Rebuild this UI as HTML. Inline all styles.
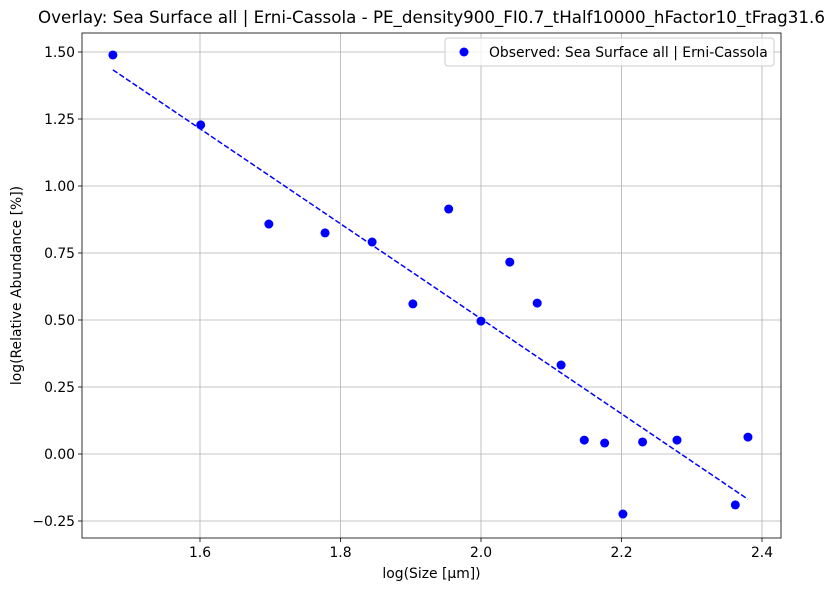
<!DOCTYPE html>
<html><head><meta charset="utf-8"><style>
body{margin:0;background:#fff;font-family:"Liberation Sans","DejaVu Sans",sans-serif}
svg text{font-family:"DejaVu Sans","Liberation Sans",sans-serif}
</style></head><body>
<svg id="chart" width="831" height="590" xmlns="http://www.w3.org/2000/svg"></svg>
<script>
const xs=[1.476,1.601,1.698,1.778,1.845,1.903,1.954,2.0,2.041,2.080,2.114,2.147,2.176,2.202,2.230,2.279,2.362,2.380];
const ys=[1.489,1.228,0.858,0.825,0.791,0.560,0.914,0.496,0.716,0.563,0.332,0.052,0.041,-0.224,0.045,0.052,-0.190,0.063];
const xTicks=[1.6,1.8,2.0,2.2,2.4];
const xTickLabels=["1.6","1.8","2.0","2.2","2.4"];
const yTicks=[-0.25,0,0.25,0.5,0.75,1.0,1.25,1.5];
const yTickLabels=["−0.25","0.00","0.25","0.50","0.75","1.00","1.25","1.50"];
const L=82,R=781,T=33,B=538;
const X=v=>200+(v-1.6)*702.5;
const Y=v=>454-v*268;
const svg=document.getElementById('chart');
const NS='http://www.w3.org/2000/svg';
function mk(tag,attrs,parent){const e=document.createElementNS(NS,tag);for(const k in attrs)e.setAttribute(k,attrs[k]);(parent||svg).appendChild(e);return e;}
xTicks.forEach((t,i)=>{
 const g=mk('line',{x1:X(t),x2:X(t),y1:T,y2:B,stroke:'#b0b0b0','stroke-width':0.8});
 
 
 mk('line',{x1:X(t),x2:X(t),y1:B,y2:B+4,stroke:'#000','stroke-width':0.8});
 const tx=mk('text',{x:X(t),y:B+19,'text-anchor':'middle','font-size':13.9});
 tx.textContent=xTickLabels[i];
 
 
});
yTicks.forEach((t,i)=>{
 const g=mk('line',{x1:L,x2:R,y1:Y(t),y2:Y(t),stroke:'#b0b0b0','stroke-width':0.8});
 
 
 mk('line',{x1:L-4,x2:L,y1:Y(t),y2:Y(t),stroke:'#000','stroke-width':0.8});
 const tx=mk('text',{x:L-7,y:Y(t)+5,'text-anchor':'end','font-size':13.9});
 tx.textContent=yTickLabels[i];
 
 
});
const n=xs.length,mx=xs.reduce((a,b)=>a+b)/n,my=ys.reduce((a,b)=>a+b)/n;
let sxy=0,sxx=0;for(let i=0;i<n;i++){sxy+=(xs[i]-mx)*(ys[i]-my);sxx+=(xs[i]-mx)**2;}
const m=sxy/sxx,c=my-m*mx;
const x0=Math.min(...xs),x1=Math.max(...xs);
const fit=mk('line',{x1:X(x0),y1:Y(m*x0+c),x2:X(x1),y2:Y(m*x1+c),stroke:'#0000ff','stroke-width':1.5,'stroke-dasharray':'5.5,2.4'});


xs.forEach((x,i)=>{
 const p=mk('circle',{cx:X(x),cy:Y(ys[i]),r:4.5,fill:'#0000ff'});
 
 
});
const fr=mk('rect',{x:L,y:T,width:R-L,height:B-T,fill:'none',stroke:'#000','stroke-width':0.8});


const title=mk('text',{x:(L+R)/2,y:23,'text-anchor':'middle','font-size':16.7});
title.textContent='Overlay: Sea Surface all | Erni-Cassola - PE_density900_FI0.7_tHalf10000_hFactor10_tFrag31.6';


const xl=mk('text',{x:(L+R)/2,y:578,'text-anchor':'middle','font-size':13.9});
xl.textContent='log(Size [µm])';


const yl=mk('text',{x:21,y:(T+B)/2,'text-anchor':'middle','font-size':13.9,transform:`rotate(-90 21 ${(T+B)/2})`});
yl.textContent='log(Relative Abundance [%])';


const lg=mk('g',{});


mk('rect',{x:445,y:38,width:329,height:28,rx:3,fill:'#fff','fill-opacity':0.8,stroke:'#ccc'},lg);
mk('circle',{cx:464,cy:52,r:4.5,fill:'#0000ff'},lg);
const lt=mk('text',{x:489,y:57,'font-size':13.9},lg);
lt.textContent='Observed: Sea Surface all | Erni-Cassola';


</script>
</body></html>
